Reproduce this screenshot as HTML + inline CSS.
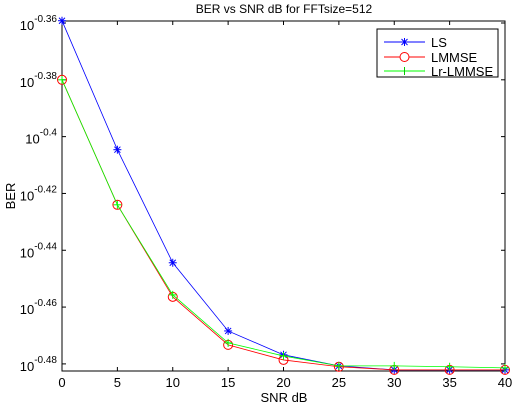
<!DOCTYPE html>
<html><head><meta charset="utf-8"><style>
body{margin:0;background:#fff;}
svg{display:block;font-family:"Liberation Sans",Arial,sans-serif;}
</style></head><body>
<svg id="chart" width="514" height="406">
<rect x="0" y="0" width="514" height="406" fill="#fff"/>
<g id="grid"></g>
<g id="marks"></g>
<text x="284" y="13" font-size="12" text-anchor="middle">BER vs SNR dB for FFTsize=512</text>
<text x="284" y="402" font-size="13" text-anchor="middle">SNR dB</text>
<text transform="translate(15,196) rotate(-90)" font-size="13" text-anchor="middle">BER</text>
<g>
<rect x="377" y="29" width="121" height="48" fill="#fff" stroke="#000" stroke-width="1"/>
<line x1="384" y1="42" x2="425" y2="42" stroke="#0000ff"/>
<line x1="404.5" y1="38" x2="404.5" y2="46" stroke="#0000ff"/>
<line x1="401.5" y1="39" x2="407.5" y2="45" stroke="#0000ff"/>
<line x1="401.5" y1="45" x2="407.5" y2="39" stroke="#0000ff"/>
<text x="431" y="47" font-size="13">LS</text>
<line x1="384" y1="57" x2="425" y2="57" stroke="#ff0000"/>
<circle cx="404.5" cy="57" r="4.5" fill="#fff" stroke="#ff0000"/>
<text x="431" y="62" font-size="13">LMMSE</text>
<line x1="384" y1="71" x2="425" y2="71" stroke="#00ff00"/>
<line x1="404.5" y1="67" x2="404.5" y2="75" stroke="#00cc00"/>
<text x="431" y="76" font-size="13">Lr-LMMSE</text>
</g>
</svg>
<script>
const snr = [0,5,10,15,20,25,30,35,40];
const lsLog = [-0.3592,-0.4046,-0.4444,-0.4684,-0.4768,-0.4807,-0.4821,-0.4821,-0.4821];
const lmmseLog = [-0.38,-0.424,-0.4564,-0.4733,-0.4786,-0.481,-0.4821,-0.4821,-0.4821];
const lrLog = [-0.38,-0.424,-0.4557,-0.4726,-0.4772,-0.4807,-0.4807,-0.481,-0.4814];
const xTicks = [0,5,10,15,20,25,30,35,40];
const yTicks = ["-0.36","-0.38","-0.4","-0.42","-0.44","-0.46","-0.48"];
const NS="http://www.w3.org/2000/svg";
const L=62,R=505,T=21,B=371;
const yMax=-0.3593,yMin=-0.4825;
const xs=v=>L+(v-0)/(40-0)*(R-L);
const ys=lv=>T+(yMax-lv)/(yMax-yMin)*(B-T);
function mk(tag,attrs,parent){const e=document.createElementNS(NS,tag);for(const k in attrs)e.setAttribute(k,attrs[k]);parent.appendChild(e);return e;}
const g=document.getElementById('grid'),m=document.getElementById('marks');
xTicks.forEach(t=>{const x=xs(t);
 mk('line',{x1:x,y1:B,x2:x,y2:B-4,stroke:'#000'},g);
 mk('line',{x1:x,y1:T,x2:x,y2:T+4,stroke:'#000'},g);
 const tx=mk('text',{x:x,y:B+16,'font-size':13,'text-anchor':'middle'},g);tx.textContent=t;
 
 
});
yTicks.forEach(t=>{const y=ys(parseFloat(t));
 mk('line',{x1:L,y1:y,x2:L+4,y2:y,stroke:'#000'},g);
 mk('line',{x1:R,y1:y,x2:R-4,y2:y,stroke:'#000'},g);
 const tx=mk('text',{x:L-5,y:y+7,'font-size':13,'text-anchor':'end'},g);
 
 
 tx.innerHTML='10<tspan dy="-8" font-size="10">'+t+'</tspan>';
});
const box=mk('rect',{x:L,y:T,width:R-L,height:B-T,fill:'none',stroke:'#000','stroke-width':1},g);


function series(vals,color,name,marker){
 const pts=snr.map((s,i)=>xs(s)+','+ys(vals[i])).join(' ');
 const pl=mk('polyline',{points:pts,fill:'none',stroke:color,'stroke-width':0.8},m);
 
 
 snr.forEach((s,i)=>{const x=xs(s),y=ys(vals[i]);let e;
  if(marker==='o'){e=mk('circle',{cx:x,cy:y,r:4.5,fill:'none',stroke:color},m);}
  else{e=mk('g',{},m);
   mk('line',{x1:x-4,y1:y,x2:x+4,y2:y,stroke:color},e);mk('line',{x1:x,y1:y-4,x2:x,y2:y+4,stroke:color},e);
   if(marker==='*'){mk('line',{x1:x-3,y1:y-3,x2:x+3,y2:y+3,stroke:color},e);mk('line',{x1:x-3,y1:y+3,x2:x+3,y2:y-3,stroke:color},e);}}
  
  
 });
}
series(lsLog,'#0000ff','ls','*');
series(lmmseLog,'#ff0000','lmmse','o');
series(lrLog,'#00ff00','lr-lmmse','+');
</script>
</body></html>
